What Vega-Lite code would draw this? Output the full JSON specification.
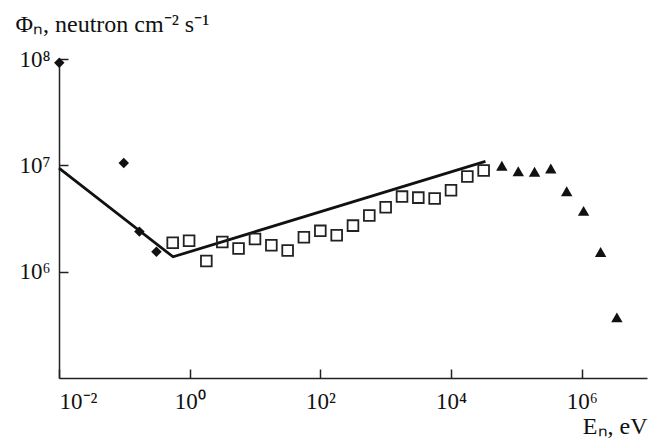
{
  "$schema": "https://vega.github.io/schema/vega-lite/v6.json",
  "width": 588,
  "height": 319,
  "autosize": "none",
  "padding": {"left": 59, "top": 59, "right": 8, "bottom": 63},
  "background": "white",
  "config": {
    "view": {"stroke": null},
    "font": "Liberation Serif",
    "axis": {
      "grid": false,
      "domainColor": "#222",
      "domainWidth": 1.5,
      "tickColor": "#222",
      "tickWidth": 1.5,
      "tickSize": -9,
      "labelFont": "Liberation Serif",
      "labelFontSize": 23,
      "labelColor": "#111",
      "titleFont": "Liberation Serif",
      "titleFontSize": 24,
      "titleFontWeight": "normal",
      "titleColor": "#111"
    }
  },
  "datasets": {
    "diamonds": [
      {"E": 0.0101, "F": 92000000},
      {"E": 0.098, "F": 10500000},
      {"E": 0.17, "F": 2380000},
      {"E": 0.31, "F": 1540000}
    ],
    "squares": [
      {"E": 0.55, "F": 1870000},
      {"E": 0.98, "F": 1950000},
      {"E": 1.8, "F": 1260000},
      {"E": 3.16, "F": 1900000},
      {"E": 5.6, "F": 1650000},
      {"E": 10, "F": 2030000},
      {"E": 17.8, "F": 1770000},
      {"E": 31.6, "F": 1580000},
      {"E": 56, "F": 2110000},
      {"E": 100, "F": 2420000},
      {"E": 178, "F": 2200000},
      {"E": 316, "F": 2710000},
      {"E": 562, "F": 3370000},
      {"E": 1000, "F": 4040000},
      {"E": 1780, "F": 5080000},
      {"E": 3160, "F": 4970000},
      {"E": 5620, "F": 4870000},
      {"E": 10000, "F": 5840000},
      {"E": 17800, "F": 7850000},
      {"E": 31600, "F": 8940000}
    ],
    "triangles": [
      {"E": 60000, "F": 9900000},
      {"E": 107000, "F": 8800000},
      {"E": 190000, "F": 8700000},
      {"E": 337000, "F": 9330000},
      {"E": 590000, "F": 5710000},
      {"E": 1070000, "F": 3730000},
      {"E": 1950000, "F": 1530000},
      {"E": 3460000, "F": 372000}
    ],
    "line": [
      {"E": 0.01, "F": 9400000},
      {"E": 0.557, "F": 1380000},
      {"E": 33700, "F": 10900000}
    ]
  },
  "layer": [
    {
      "data": {"name": "line"},
      "mark": {"type": "line", "color": "#111", "strokeWidth": 2.8},
      "encoding": {
        "x": {
          "field": "E", "type": "quantitative",
          "scale": {"type": "log", "domain": [0.01, 10000000], "nice": false},
          "axis": {
            "values": [0.01, 1, 100, 10000, 1000000],
            "labelExpr": "datum.value < 0.1 ? '10⁻²' : datum.value < 10 ? '10⁰' : datum.value < 1000 ? '10²' : datum.value < 100000 ? '10⁴' : '10⁶'",
            "labelPadding": 21,
            "labelBaseline": "top",
            "title": "Eₙ, eV",
            "titleAnchor": "end",
            "titleAlign": "right",
            "titleBaseline": "alphabetic",
            "titleX": 588,
            "titleY": 55
          }
        },
        "y": {
          "field": "F", "type": "quantitative",
          "scale": {"type": "log", "domain": [100000, 100000000], "nice": false},
          "axis": {
            "values": [1000000, 10000000, 100000000],
            "labelExpr": "datum.value < 5000000 ? '10⁶' : datum.value < 50000000 ? '10⁷' : '10⁸'",
            "labelPadding": 18,
            "labelDy": 2,
            "title": "Φₙ, neutron cm⁻² s⁻¹",
            "titleAngle": 0,
            "titleAlign": "left",
            "titleBaseline": "alphabetic",
            "titleX": -44,
            "titleY": -28
          }
        }
      }
    },
    {
      "data": {"name": "diamonds"},
      "mark": {"type": "point", "shape": "diamond", "filled": true, "color": "#111", "size": 110, "opacity": 1},
      "encoding": {
        "x": {"field": "E", "type": "quantitative"},
        "y": {"field": "F", "type": "quantitative"}
      }
    },
    {
      "data": {"name": "squares"},
      "mark": {"type": "point", "shape": "square", "filled": false, "color": "#222", "size": 115, "strokeWidth": 1.8, "opacity": 1},
      "encoding": {
        "x": {"field": "E", "type": "quantitative"},
        "y": {"field": "F", "type": "quantitative"}
      }
    },
    {
      "data": {"name": "triangles"},
      "mark": {"type": "point", "shape": "triangle-up", "filled": true, "color": "#111", "size": 130, "opacity": 1},
      "encoding": {
        "x": {"field": "E", "type": "quantitative"},
        "y": {"field": "F", "type": "quantitative"}
      }
    }
  ]
}
